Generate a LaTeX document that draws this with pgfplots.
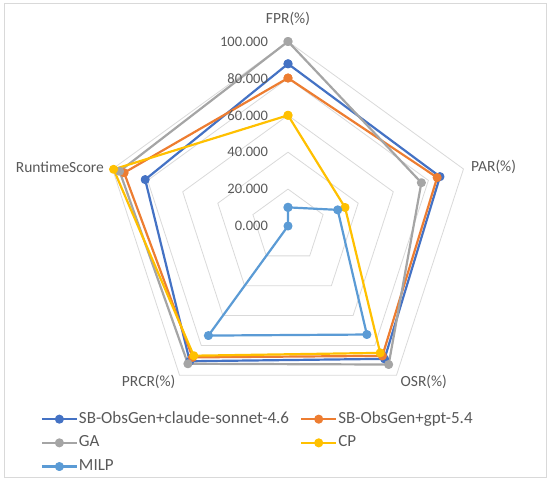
\documentclass[border=0pt]{standalone}
\usepackage{pgfplots}
\pgfplotsset{compat=1.18}
\usepackage{fontspec}
\setmainfont{Carlito}

\definecolor{sClaude}{HTML}{4472C4}
\definecolor{sGpt}{HTML}{ED7D31}
\definecolor{sGA}{HTML}{A5A5A5}
\definecolor{sCP}{HTML}{FFC000}
\definecolor{sMILP}{HTML}{5B9BD5}
\definecolor{gridc}{HTML}{D9D9D9}
\definecolor{txt}{HTML}{595959}

\pgfplotsset{
  ring/.style={gridc, line width=0.8pt, mark=none, forget plot, data cs=polar},
  series/.style={#1, line width=2.2pt, line join=round, mark=*, mark size=3.4pt,
    mark options={solid, fill=#1, draw=#1}, data cs=polar},
}

\begin{document}
\begin{tikzpicture}
\begin{axis}[
  x=1.845pt, y=1.845pt,
  xmin=-156.1, xmax=142.0, ymin=-138.2, ymax=122.5,
  hide axis, clip=false,
  legend columns=2,
  legend cell align=left,
  legend style={at={(axis cs:-134.1,-99.7)}, anchor=north west, draw=none, fill=none,
    inner sep=0pt, font=\fontsize{17}{19}\selectfont, text=txt,
    nodes={inner sep=1pt, text height=12pt, text depth=4pt}, row sep=5.7pt,
    /tikz/every even column/.append style={column sep=10pt}},
  legend image code/.code={\draw[mark repeat=2,mark phase=2,#1]
    plot coordinates {(0pt,0pt)(17.5pt,0pt)(35pt,0pt)};},
]
% pentagon grid, 20 .. 100
\addplot[ring] coordinates {(90,20)(18,20)(-54,20)(-126,20)(162,20)(90,20)};
\addplot[ring] coordinates {(90,40)(18,40)(-54,40)(-126,40)(162,40)(90,40)};
\addplot[ring] coordinates {(90,60)(18,60)(-54,60)(-126,60)(162,60)(90,60)};
\addplot[ring] coordinates {(90,80)(18,80)(-54,80)(-126,80)(162,80)(90,80)};
\addplot[ring] coordinates {(90,100)(18,100)(-54,100)(-126,100)(162,100)(90,100)};

% order of spokes: FPR, PAR, OSR, PRCR, RuntimeScore
\addplot[series=sClaude] coordinates {(90,87.9)(18,86.6)(-54,89.0)(-126,90.6)(162,81.4)(90,87.9)};
\addlegendentry{SB-ObsGen+claude-sonnet-4.6}
\addplot[series=sGpt] coordinates {(90,80.2)(18,85.0)(-54,87.0)(-126,88.0)(162,93.4)(90,80.2)};
\addlegendentry{SB-ObsGen+gpt-5.4}
\addplot[series=sGA] coordinates {(90,100)(18,76.0)(-54,92.8)(-126,92.3)(162,96.0)(90,100)};
\addlegendentry{GA}
\addplot[series=sCP] coordinates {(90,60.0)(18,32.5)(-54,85.0)(-126,86.9)(162,99.4)(90,60.0)};
\addlegendentry{CP}
\addplot[series=sMILP] coordinates {(90,10.1)(18,28.3)(-54,72.7)(-126,73.4)(162,0)(90,10.1)};
\addlegendentry{MILP}

% radial tick labels
\begin{scope}[font=\fontsize{14.5}{16}\selectfont, text=txt]
\node[anchor=east, inner sep=0pt] at (axis cs:-10.8,100) {100.000};
\node[anchor=east, inner sep=0pt] at (axis cs:-10.8,80) {80.000};
\node[anchor=east, inner sep=0pt] at (axis cs:-10.8,60) {60.000};
\node[anchor=east, inner sep=0pt] at (axis cs:-10.8,40) {40.000};
\node[anchor=east, inner sep=0pt] at (axis cs:-10.8,20) {20.000};
\node[anchor=east, inner sep=0pt] at (axis cs:-10.8,0) {0.000};
\end{scope}
% category labels
\begin{scope}[font=\fontsize{15.5}{17}\selectfont, text=txt]
\node[inner sep=0pt] at (axis cs:0,112.2) {FPR(\%)};
\node[anchor=west, inner sep=0pt] at (axis cs:99.2,32.1) {PAR(\%)};
\node[inner sep=0pt] at (axis cs:73.6,-84.4) {OSR(\%)};
\node[inner sep=0pt] at (axis cs:-75.5,-84.4) {PRCR(\%)};
\node[anchor=east, inner sep=0pt] at (axis cs:-99.7,32.1) {RuntimeScore};
\end{scope}

\draw[gridc, line width=0.8pt] (axis cs:-153.9,120.9) rectangle (axis cs:139.8,-136.0);
\path (rel axis cs:0,0) rectangle (rel axis cs:1,1);
\end{axis}
\end{tikzpicture}
\end{document}
